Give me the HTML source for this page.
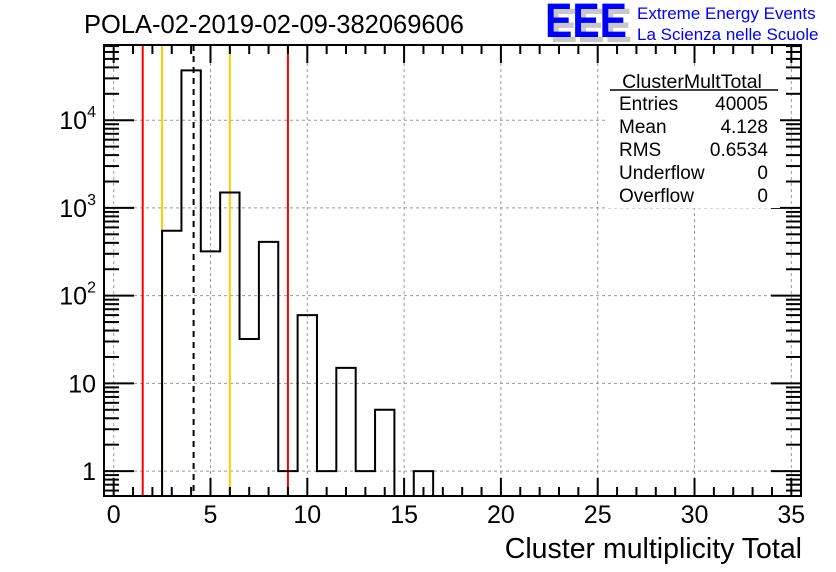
<!DOCTYPE html>
<html><head><meta charset="utf-8"><style>
body{margin:0;background:#fff}
svg{display:block;font-family:"Liberation Sans",sans-serif}
</style></head><body>
<svg id="c" width="836" height="572" viewBox="0 0 836 572">
<rect width="836" height="572" fill="#fff"/>
<text x="84" y="33" font-size="25.5">POLA-02-2019-02-09-382069606</text>
<g>
<text x="550" y="42" font-size="48" font-weight="bold" fill="#c8c8c8" textLength="82" lengthAdjust="spacingAndGlyphs">EEE</text>
<text x="545" y="37" font-size="48" font-weight="bold" fill="#0000ff" textLength="82" lengthAdjust="spacingAndGlyphs">EEE</text>
<text x="637" y="19" font-size="17" fill="#0000ff">Extreme Energy Events</text>
<text x="637" y="40" font-size="17" fill="#0000ff">La Scienza nelle Scuole</text>
</g>
<g id="grid"></g>
<g id="marks"></g>
<g id="axes"></g>
<g>
<rect x="608" y="66" width="172" height="142" fill="#fff"/>
<text x="692" y="88" font-size="19.5" text-anchor="middle">ClusterMultTotal</text>
<line x1="610" y1="90" x2="778" y2="90" stroke="#000" stroke-width="1.5"/>
<g font-size="19">
<text x="619" y="110">Entries</text><text x="768" y="110" text-anchor="end">40005</text>
<text x="619" y="133">Mean</text><text x="768" y="133" text-anchor="end">4.128</text>
<text x="619" y="156">RMS</text><text x="768" y="156" text-anchor="end">0.6534</text>
<text x="619" y="179">Underflow</text><text x="768" y="179" text-anchor="end">0</text>
<text x="619" y="202">Overflow</text><text x="768" y="202" text-anchor="end">0</text>
</g></g>
<text x="802" y="558" font-size="28.5" text-anchor="end">Cluster multiplicity Total</text>
</svg>
<script>
const binCenters=[3,4,5,6,7,8,9,10,11,12,13,14,15,16];
const binCounts=[550,37000,320,1500,32,410,1,60,1,15,1,5,0,1];
const xTicks=[0,5,10,15,20,25,30,35];
const yTickVals=[1,10,100,1000,10000];
const yTickBase=["1","10","10","10","10"];
const yTickExp=["","","2","3","4"];
const redLines=[1.5,9];
const orangeLines=[2.5,6];
const meanValue=4.128;
const L=104,R=801,T=45,B=496,XMIN=-0.5,XMAX=35.5,YMIN=Math.log10(0.52),YMAX=Math.log10(72000);
const sx=v=>L+(v-XMIN)/(XMAX-XMIN)*(R-L);
const sy=v=>B-(Math.log10(v)-YMIN)/(YMAX-YMIN)*(B-T);
const NS="http://www.w3.org/2000/svg";
function mk(tag,attrs,parent){const e=document.createElementNS(NS,tag);for(const k in attrs)e.setAttribute(k,attrs[k]);parent.appendChild(e);return e;}
const grid=document.getElementById('grid'),marks=document.getElementById('marks'),axes=document.getElementById('axes');
xTicks.forEach(t=>{const g=mk('line',{x1:sx(t),x2:sx(t),y1:T,y2:B,stroke:'#999','stroke-dasharray':'3,3'},grid);

});
yTickVals.forEach(v=>{const g=mk('line',{x1:L,x2:R,y1:sy(v),y2:sy(v),stroke:'#999','stroke-dasharray':'3,3'},grid);

});
redLines.forEach(v=>{const l=mk('line',{x1:sx(v),x2:sx(v),y1:T,y2:B,stroke:'#ff0000','stroke-width':2},marks);

});
orangeLines.forEach(v=>{const l=mk('line',{x1:sx(v),x2:sx(v),y1:T,y2:B,stroke:'#ffcc00','stroke-width':2},marks);

});
let d='';
binCenters.forEach((c,i)=>{const v=binCounts[i];const y=v>0?sy(v):B;const x0=sx(c-0.5),x1=sx(c+0.5);
if(i===0)d+=`M${x0},${B}`;d+=`L${x0},${y}L${x1},${y}`;});
d+=`L${sx(binCenters[binCenters.length-1]+0.5)},${B}`;
const h=mk('path',{d:d,fill:'none',stroke:'#000','stroke-width':2},marks);


const ml=mk('line',{x1:sx(meanValue),x2:sx(meanValue),y1:T,y2:B,stroke:'#000','stroke-width':2,'stroke-dasharray':'6,5'},marks);


const fr=mk('rect',{x:L,y:T,width:R-L,height:B-T,fill:'none',stroke:'#000','stroke-width':2},axes);


for(let v=0;v<=35;v++){const major=v%5===0;const len=major?18:9;
mk('line',{x1:sx(v),x2:sx(v),y1:B,y2:B-len,stroke:'#000','stroke-width':2},axes);
mk('line',{x1:sx(v),x2:sx(v),y1:T,y2:T+len,stroke:'#000','stroke-width':2},axes);}
xTicks.forEach(t=>{const e=mk('text',{x:sx(t),y:523,'font-size':25,'text-anchor':'middle'},axes);e.textContent=t;

});
for(let dec=-1;dec<=4;dec++){for(let m=1;m<=9;m++){const v=m*Math.pow(10,dec);if(v<0.52||v>72000)continue;const len=m===1?30:15;
mk('line',{x1:L,x2:L+len,y1:sy(v),y2:sy(v),stroke:'#000','stroke-width':2},axes);
mk('line',{x1:R,x2:R-len,y1:sy(v),y2:sy(v),stroke:'#000','stroke-width':2},axes);}}
yTickVals.forEach((v,i)=>{const e=mk('text',{x:96,y:sy(v)+9,'font-size':25,'text-anchor':'end'},axes);
const b=mk('tspan',{},e);b.textContent=yTickBase[i];
if(yTickExp[i]){const s=mk('tspan',{'font-size':16,dy:-12},e);s.textContent=yTickExp[i];}

});
</script>
</body></html>
